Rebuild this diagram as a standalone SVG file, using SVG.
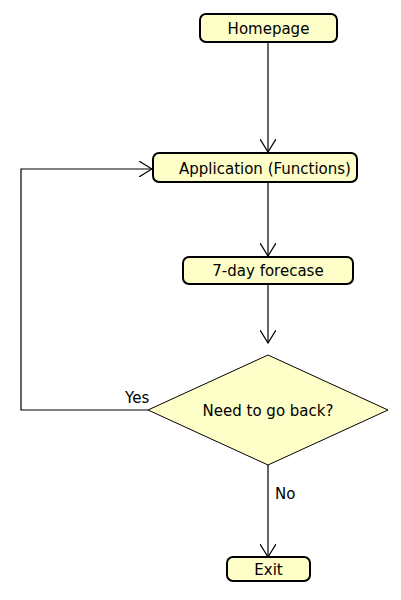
<svg xmlns="http://www.w3.org/2000/svg" width="401" height="600" viewBox="0 0 401 600">
<defs>
<style>
.box{fill:#fefec8;stroke:#000;stroke-width:2}
.dia{fill:#fefec8;stroke:#000;stroke-width:1}
.t{font-family:"DejaVu Sans",sans-serif;font-size:15px;fill:#000;text-anchor:middle;dominant-baseline:central}
.lbl{font-family:"DejaVu Sans",sans-serif;font-size:15px;fill:#000}
.c{fill:none;stroke:#000;stroke-width:1.2}
</style>
<marker id="arr" viewBox="0 0 14 16" refX="13" refY="8" markerWidth="14" markerHeight="16" markerUnits="userSpaceOnUse" orient="auto">
<path d="M0,0 L13,8 L0,16" fill="none" stroke="#000" stroke-width="1.2"/>
</marker>
</defs>
<rect width="401" height="600" fill="#fff"/>
<g id="connectors">
<path class="c" d="M268,42 V152" marker-end="url(#arr)"/>
<path class="c" d="M268,183 V256" marker-end="url(#arr)"/>
<path class="c" d="M268,284 V343" marker-end="url(#arr)"/>
<path class="c" d="M148,410 H21 V169 H152" marker-end="url(#arr)"/>
<path class="c" d="M268,465 V557" marker-end="url(#arr)"/>
<text class="lbl" x="125" y="403">Yes</text>
<text class="lbl" x="275" y="499">No</text>
</g>
<g id="homepage">
<rect class="box" x="200" y="14" width="137" height="28" rx="6"/>
<text class="t" x="268.5" y="28.5">Homepage</text>
</g>
<g id="application">
<rect class="box" x="153" y="153" width="204" height="29" rx="6"/>
<text class="t" x="265" y="168.5">Application (Functions)</text>
</g>
<g id="forecast">
<rect class="box" x="183" y="257" width="170" height="27" rx="6"/>
<text class="t" x="268" y="271">7-day forecase</text>
</g>
<g id="decision">
<polygon class="dia" points="268,355 388,410 268,465 148,410"/>
<text class="t" x="268" y="410.5">Need to go back?</text>
</g>
<g id="exit">
<rect class="box" x="227" y="557" width="83" height="24" rx="6"/>
<text class="t" x="268.5" y="569.5">Exit</text>
</g>
</svg>
